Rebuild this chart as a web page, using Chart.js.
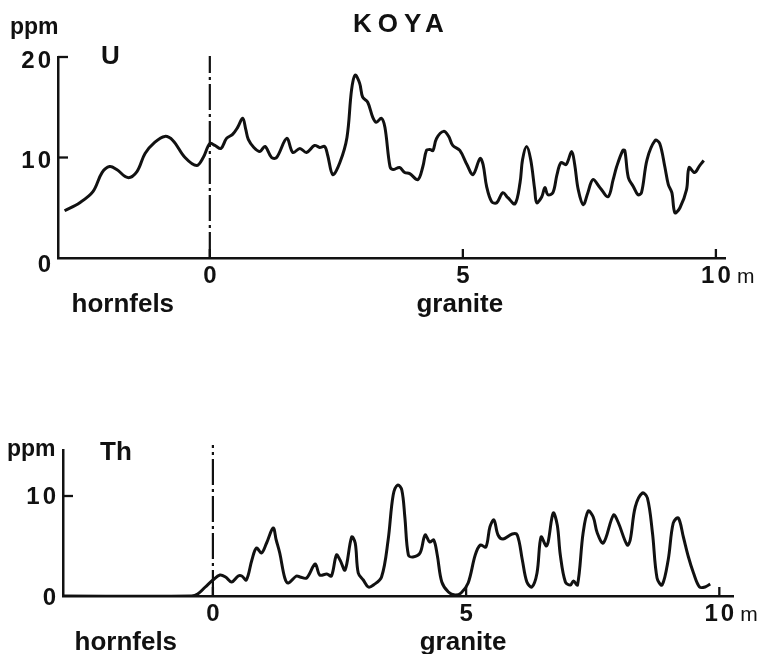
<!DOCTYPE html>
<html>
<head>
<meta charset="utf-8">
<script src="https://cdn.jsdelivr.net/npm/chart.js@4.4.1/dist/chart.umd.min.js"></script>
<style>
  html, body { margin:0; padding:0; background:#fff; }
  #wrap { position:relative; width:758px; height:654px; background:#fff; }
  canvas { position:absolute; left:0; }
  #cTop { top:0; }
  #cBot { top:327px; }
</style>
</head>
<body>
<div id="wrap">
  <canvas id="cTop" width="758" height="327"></canvas>
  <canvas id="cBot" width="758" height="327"></canvas>
</div>
<script>
// ---------- data ----------
const chartTitle = 'KOYA';
const boundaryX = 0;            // hornfels / granite contact (m)
const xTickValues = [0, 5, 10];
const xTickLabels = ['0', '5', '10'];
const xUnit = 'm';
const uYTicks = [0, 10, 20];
const thYTicks = [0, 10];
const uTickMarks = [10, 20];
const thTickMarks = [10];

const uX = [-2.87,-2.57,-2.31,-2.13,-1.98,-1.84,-1.62,-1.44,-1.28,-1.09,-0.89,-0.73,-0.49,-0.26,-0.13,
  0.00,0.10,0.22,0.33,0.45,0.55,0.65,0.71,0.76,0.87,0.99,1.09,1.22,1.32,1.52,1.64,1.78,1.91,2.07,2.17,2.27,
  2.33,2.43,2.57,2.71,2.80,2.87,2.96,3.02,3.12,3.22,3.29,3.39,3.46,3.56,3.62,3.75,3.85,3.95,4.11,4.21,4.28,
  4.35,4.41,4.48,4.62,4.72,4.80,4.94,5.08,5.20,5.34,5.40,5.47,5.57,5.67,5.79,5.89,6.03,6.13,6.18,6.26,6.34,
  6.42,6.46,6.56,6.62,6.68,6.78,6.86,6.94,7.04,7.15,7.21,7.28,7.38,7.47,7.57,7.71,7.87,7.97,8.04,8.16,8.20,
  8.27,8.37,8.46,8.53,8.64,8.80,8.89,8.99,9.06,9.13,9.19,9.29,9.42,9.47,9.58,9.68,9.76];
const uY = [4.7,5.5,6.6,8.5,9.1,8.8,8.0,8.6,10.4,11.5,12.1,11.7,10.0,9.2,10.0,
  11.4,11.2,10.9,11.9,12.3,13.0,13.9,12.8,11.8,11.0,10.6,11.1,10.0,10.0,11.9,10.5,10.9,10.5,11.2,11.0,11.1,
  10.2,8.3,9.5,12.0,16.7,18.2,17.4,16.0,15.5,14.0,13.5,13.9,13.0,9.1,8.8,9.0,8.5,8.4,7.8,9.1,10.7,
  10.8,10.7,11.9,12.6,12.1,11.2,10.7,9.3,8.3,9.9,9.3,7.1,5.6,5.5,6.5,6.0,5.4,7.5,9.8,11.1,9.8,
  6.8,5.5,6.1,7.0,6.3,6.5,8.3,9.5,9.3,10.6,9.3,6.8,5.3,6.5,7.8,7.0,6.1,7.8,9.1,10.7,10.7,
  8.0,7.1,6.3,6.5,9.8,11.7,11.4,9.1,7.3,6.5,4.5,5.0,6.8,9.0,8.5,9.2,9.7];

const thX = [-3.00,-0.42,-0.30,-0.15,0.00,0.14,0.25,0.37,0.50,0.57,0.66,0.77,0.86,0.96,1.06,1.19,1.25,1.32,
  1.42,1.49,1.65,1.72,1.85,2.02,2.11,2.25,2.34,2.44,2.51,2.61,2.74,2.81,2.87,2.97,3.07,3.17,3.33,3.46,3.56,
  3.65,3.73,3.79,3.86,3.95,4.09,4.19,4.28,4.36,4.43,4.52,4.65,4.78,4.90,5.04,5.18,5.28,5.39,5.47,5.55,5.63,
  5.73,5.91,6.01,6.11,6.20,6.30,6.40,6.48,6.58,6.62,6.72,6.80,6.86,6.96,7.06,7.12,7.20,7.31,7.41,7.51,7.59,
  7.71,7.91,8.00,8.18,8.24,8.34,8.48,8.58,8.68,8.77,8.87,8.99,9.09,9.19,9.29,9.39,9.49,9.61,9.72,9.82];
const thY = [0,0,0.2,0.9,1.6,2.1,1.9,1.4,2.0,2.0,1.6,3.6,4.8,4.3,5.3,6.8,5.6,4.3,
  1.8,1.3,2.0,1.9,1.8,3.2,2.1,2.2,2.0,4.1,3.6,2.6,5.9,5.3,2.3,1.6,0.9,1.1,1.9,5.6,10.1,
  11.1,10.6,7.9,4.1,3.9,4.3,6.1,5.4,5.6,4.1,1.4,0.4,0.1,0.3,1.3,4.1,5.1,4.9,6.9,7.6,6.1,
  5.7,6.2,6.1,3.6,1.4,0.9,2.3,5.9,5.0,5.4,8.3,7.1,4.1,1.4,1.1,1.5,1.1,6.3,8.5,7.9,6.3,
  5.3,8.1,7.4,5.1,5.6,8.9,10.3,9.8,6.3,1.8,1.1,3.6,7.3,7.8,5.9,3.9,2.3,0.9,0.9,1.2];

// ---------- styling ----------
const INK = '#111111';
const FONT = '"Liberation Sans", Arial, sans-serif';

function pts(xs, ys) { return xs.map((x, i) => ({ x, y: ys[i] })); }

const decor = {
  id: 'decor',
  afterDraw(chart, args, o) {
    const { ctx } = chart;
    const x = chart.scales.x, y = chart.scales.y;
    ctx.save();
    ctx.strokeStyle = INK;
    ctx.fillStyle = INK;
    ctx.lineWidth = 2.3;
    ctx.lineCap = 'butt';
    // inward x tick marks
    xTickValues.forEach(v => {
      const px = x.getPixelForValue(v);
      ctx.beginPath(); ctx.moveTo(px, y.bottom); ctx.lineTo(px, y.bottom - 9); ctx.stroke();
    });
    // inward y tick marks
    o.yMarks.forEach(v => {
      const py = y.getPixelForValue(v);
      ctx.beginPath(); ctx.moveTo(x.left, py); ctx.lineTo(x.left + 10, py); ctx.stroke();
    });
    // x tick labels
    ctx.font = 'bold 24px ' + FONT;
    ctx.letterSpacing = '3px';
    ctx.textBaseline = 'alphabetic';
    xTickValues.forEach((v, i) => {
      const px = x.getPixelForValue(v);
      ctx.textAlign = 'center';
      ctx.fillText(xTickLabels[i], px + 1.5, y.bottom + 25);
      if (i === xTickValues.length - 1) {
        ctx.textAlign = 'left';
        ctx.letterSpacing = '0px';
        ctx.font = '21px ' + FONT;
        ctx.fillText(xUnit, px + 21, y.bottom + 25);
      }
    });
    // y tick labels
    ctx.font = 'bold 24px ' + FONT;
    ctx.textAlign = 'right';
    ctx.textBaseline = 'middle';
    ctx.letterSpacing = '3px';
    o.yLabels.forEach(v => {
      const py = y.getPixelForValue(v);
      ctx.fillText(String(v), x.left - 4, py + o.yLabelDy + (v === 0 ? o.zeroDy : 0));
    });
    // words
    ctx.textBaseline = 'alphabetic';
    ctx.letterSpacing = '0px';
    ctx.font = 'bold 26px ' + FONT;
    ctx.textAlign = 'center';
    ctx.fillText('hornfels', x.getPixelForValue(-1.72), y.bottom + 54);
    ctx.fillText('granite', x.getPixelForValue(4.94), y.bottom + 54);
    ctx.textAlign = 'left';
    ctx.font = 'bold 23px ' + FONT;
    ctx.fillText('ppm', o.ppm[0], o.ppm[1]);
    ctx.font = 'bold 26px ' + FONT;
    ctx.fillText(o.name, o.namePos[0], o.namePos[1]);
    if (o.title) {
      ctx.font = 'bold 26px ' + FONT;
      ctx.letterSpacing = '6px';
      ctx.fillText(o.title, 353, 32);
    }
    ctx.restore();
  }
};

function makeChart(id, xs, ys, yMax, pad, xMin, xMax, dashTop, opts) {
  return new Chart(document.getElementById(id), {
    type: 'line',
    data: {
      datasets: [
        { data: pts(xs, ys), borderColor: INK, borderWidth: 3, pointRadius: 0,
          tension: 0.35, fill: false },
        { data: [{ x: boundaryX, y: 0 }, { x: boundaryX, y: dashTop }], borderColor: INK,
          borderWidth: 2.2, borderDash: [26, 4, 3, 4], pointRadius: 0, clip: false, fill: false }
      ]
    },
    options: {
      responsive: false, animation: false, events: [],
      layout: { padding: pad },
      plugins: { legend: { display: false }, tooltip: { enabled: false }, decor: opts },
      scales: {
        x: { type: 'linear', min: xMin, max: xMax,
             ticks: { display: false }, grid: { display: false, drawTicks: false },
             border: { display: true, color: INK, width: 2.5 } },
        y: { type: 'linear', min: 0, max: yMax,
             ticks: { display: false }, grid: { display: false, drawTicks: false },
             border: { display: true, color: INK, width: 2.5 } }
      }
    },
    plugins: [decor]
  });
}

makeChart('cTop', uX, uY, 20, { left: 58, right: 33, top: 57, bottom: 69 }, -3.0, 10.18, 20.1,
  { yMarks: uTickMarks, yLabels: uYTicks, yLabelDy: 4, zeroDy: 3, ppm: [10, 34], name: 'U', namePos: [101, 64], title: chartTitle });
makeChart('cBot', thX, thY, 14.6, { left: 63, right: 25, top: 123, bottom: 58 }, -2.96, 10.27, 15.1,
  { yMarks: thTickMarks, yLabels: thYTicks, yLabelDy: 1, zeroDy: 1, ppm: [7, 129], name: 'Th', namePos: [100, 133], title: null });
</script>
</body>
</html>
